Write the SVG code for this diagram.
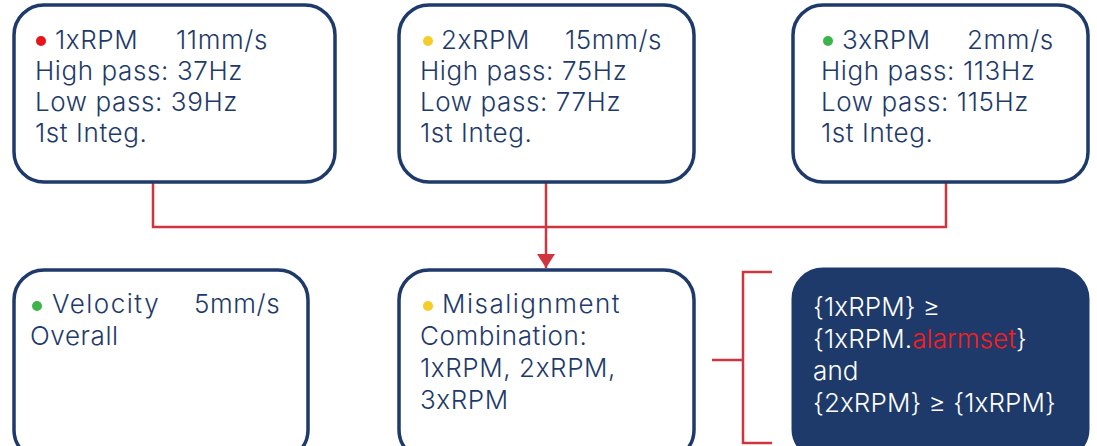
<svg xmlns="http://www.w3.org/2000/svg" width="1097" height="446" viewBox="0 0 1097 446">
<style>
.box{fill:#ffffff;stroke:#1e3a6a;stroke-width:3.5}
.dark{fill:#1e3a6a;stroke:#1e3a6a;stroke-width:3}
text{font-family:Inter,"Noto Sans","Liberation Sans",sans-serif;font-size:26px;font-weight:350;fill:#1e3a6a;letter-spacing:0.6px}
.w{fill:#ffffff;letter-spacing:0.1px}
.r{fill:#ff1a1a}
.sp{letter-spacing:1.5px}
.conn{fill:none;stroke:#d0343f;stroke-width:2.5}
</style>
<defs>
<marker id="arr" viewBox="0 0 14 18" refX="14" refY="9" markerWidth="14" markerHeight="18" markerUnits="userSpaceOnUse" orient="auto">
<path d="M0,0 L14,9 L0,18 Z" fill="#d0343f"/>
</marker>
</defs>
<g id="connectors">
<path class="conn" d="M153,182 V227 H946 V182"/>
<path class="conn" d="M546,182 V268" marker-end="url(#arr)"/>
<path class="conn" d="M772,272 H743 V443 H772 M712,360 H743"/>
</g>
<g id="node-1xrpm">
<rect class="box" x="14" y="5" width="321" height="177" rx="30"/>
<circle cx="41" cy="41" r="5" fill="#e8141b"/>
<text x="55" y="49">1xRPM</text>
<text x="176" y="49">11mm/s</text>
<text x="35" y="80">High pass: 37Hz</text>
<text x="35" y="111">Low pass: 39Hz</text>
<text x="35" y="142">1st Integ.</text>
</g>
<g id="node-2xrpm">
<rect class="box" x="399" y="5" width="295" height="177" rx="30"/>
<circle cx="428" cy="41" r="5" fill="#f5cc2a"/>
<text x="441" y="49">2xRPM</text>
<text x="565" y="49">15mm/s</text>
<text x="420" y="80">High pass: 75Hz</text>
<text x="420" y="111">Low pass: 77Hz</text>
<text x="420" y="142">1st Integ.</text>
</g>
<g id="node-3xrpm">
<rect class="box" x="793" y="5" width="295" height="177" rx="30"/>
<circle cx="828" cy="41" r="5" fill="#3cb44b"/>
<text x="842" y="49">3xRPM</text>
<text x="967" y="49">2mm/s</text>
<text x="821" y="80">High pass: 113Hz</text>
<text x="821" y="111">Low pass: 115Hz</text>
<text x="821" y="142">1st Integ.</text>
</g>
<g id="node-velocity">
<rect class="box" x="14" y="270" width="294" height="190" rx="30"/>
<circle cx="37" cy="306" r="5" fill="#3cb44b"/>
<text class="sp" x="52" y="313">Velocity</text>
<text x="194" y="313">5mm/s</text>
<text x="30" y="345">Overall</text>
</g>
<g id="node-misalignment">
<rect class="box" x="399" y="270" width="295" height="190" rx="30"/>
<circle cx="428" cy="306" r="5" fill="#f5cc2a"/>
<text class="sp" x="442" y="313">Misalignment</text>
<text x="420" y="345">Combination:</text>
<text x="420" y="377">1xRPM, 2xRPM,</text>
<text x="420" y="409">3xRPM</text>
</g>
<g id="node-condition">
<rect class="dark" x="793" y="269" width="295" height="190" rx="30"/>
<text class="w" x="813" y="316">{1xRPM} ≥</text>
<text class="w" x="813" y="348">{1xRPM.<tspan class="r">alarmset</tspan>}</text>
<text class="w" x="813" y="380">and</text>
<text class="w" x="813" y="412">{2xRPM} ≥ {1xRPM}</text>
</g>
</svg>
